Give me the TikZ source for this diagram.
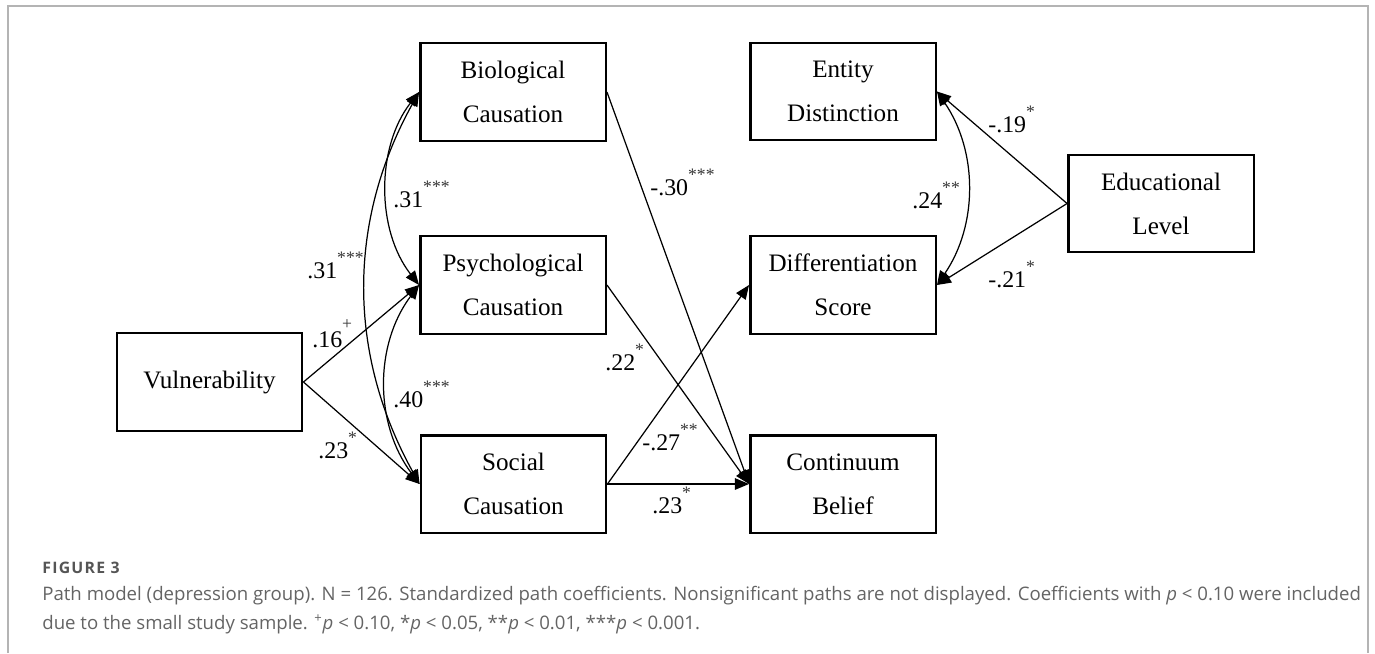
\documentclass[tikz,border=0pt]{standalone}
\usepackage{fontspec}
\usepackage{tikz}
\usetikzlibrary{arrows.meta}
\newfontfamily\tnr{Liberation Serif}
\newfontfamily\capsans{Open Sans}
\definecolor{frameGray}{RGB}{180,180,180}
\definecolor{capGray}{RGB}{100,100,100}
\definecolor{figGray}{RGB}{85,85,85}
\newcommand{\boxfont}{\tnr\fontsize{14.3}{25}\selectfont}
\newcommand{\coeffont}{\tnr\fontsize{13.6}{16}\selectfont}
\newcommand{\sig}[2][8.5pt]{\raisebox{#1}{\fontsize{10}{10}\selectfont\color{black!80}#2}}

\begin{document}
\begin{tikzpicture}[
  x=0.02cm, y=-0.02cm,
  >={Triangle[length=8pt,width=6.5pt]},
  var/.style={draw=black,line width=1.4pt,minimum width=3.71cm,minimum height=1.95cm,inner sep=0pt,font=\boxfont,align=center},
  coef/.style={font=\coeffont,anchor=base west,inner sep=0pt},
  pth/.style={->,line width=0.7pt},
  cov/.style={<->,line width=0.7pt},
  captxt/.style={anchor=base west,inner sep=0pt,text=capGray,font=\capsans\fontsize{10.6}{12}\selectfont}
]
  \useasboundingbox (0,0) rectangle (1375,653);
  \draw[frameGray,line width=0.6pt] (8,653) |- (1368,6) -- (1368,653);

  % variables
  \node[var] (vul) at (209.5,382) {\raisebox{2.8pt}{Vulnerability}};
  \node[var] (bio) at (513,92) {Biological\\Causation};
  \node[var] (psy) at (513,285) {Psychological\\Causation};
  \node[var] (soc) at (513.5,484) {Social\\Causation};
  \node[var] (ent) at (843,91.5) {Entity\\Distinction};
  \node[var] (dif) at (843,285) {Differentiation\\Score};
  \node[var] (cb) at (843,484) {Continuum\\Belief};
  \node[var] (edu) at (1161,203.5) {Educational\\Level};

  % directed paths
  \draw[pth] (vul.east) -- (psy.west);
  \draw[pth] (vul.east) -- (soc.west);
  \draw[pth] (bio.east) -- (cb.west);
  \draw[pth] (psy.east) -- (cb.west);
  \draw[pth] (soc.east) -- (cb.west);
  \draw[pth] (soc.east) -- (dif.west);
  \draw[pth] (edu.west) -- (ent.east);
  \draw[pth] (edu.west) -- (dif.east);

  % correlations
  \draw[cov] (bio.west) .. controls +(-43,55) and +(-43,-55) .. (psy.west);
  \draw[cov] (bio.west) .. controls +(-72,130) and +(-72,-130) .. (soc.west);
  \draw[cov] (psy.west) .. controls +(-45,60) and +(-45,-60) .. (soc.west);
  \draw[cov] (ent.east) .. controls +(41,60) and +(41,-60) .. (dif.east);

  % coefficients
  \node[coef] (k-bp) at (393,207) {.31\sig{***}};
  \node[coef] (k-bs) at (307,278) {.31\sig{***}};
  \node[coef] (k-vp) at (312,347) {.16\sig[10pt]{+}};
  \node[coef] (k-ps) at (393,407) {.40\sig{***}};
  \node[coef] (k-vs) at (318,458) {.23\sig{*}};
  \node[coef] (k-bc) at (650,195) {-.30\sig{***}};
  \node[coef] (k-pc) at (605,370) {.22\sig{*}};
  \node[coef] (k-sd) at (642,450) {-.27\sig{**}};
  \node[coef] (k-sc) at (652,513) {.23\sig{*}};
  \node[coef] (k-ed) at (912,208) {.24\sig{**}};
  \node[coef] (k-ue) at (988,132) {-.19\sig{*}};
  \node[coef] (k-ud) at (988,287) {-.21\sig{*}};

  % caption
  \node[captxt,text=figGray,font=\capsans\bfseries\fontsize{9}{10}\selectfont\addfontfeature{LetterSpace=8}] (fig) at (42,573) {FIGURE 3};
  \node[captxt] (cap1) at (42,600) {Path model (depression group). N = 126. Standardized path coefficients. Nonsignificant paths are not displayed. Coefficients with \textit{p} < 0.10 were included};
  \node[captxt] (cap2) at (42,629) {due to the small study sample. \textsuperscript{+}\textit{p} < 0.10, *\textit{p} < 0.05, **\textit{p} < 0.01, ***\textit{p} < 0.001.};
\end{tikzpicture}
\end{document}
